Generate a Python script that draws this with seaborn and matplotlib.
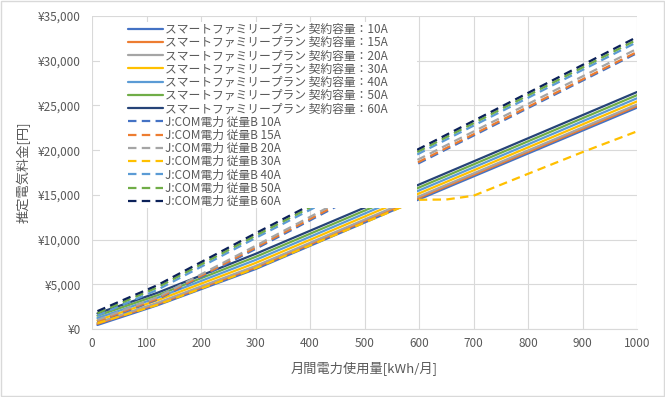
import pandas as pd
import matplotlib
matplotlib.use("Agg")
import matplotlib.pyplot as plt
import matplotlib.ticker as mticker
from matplotlib.patches import Rectangle
import seaborn as sns

# usage points (kWh/month)
usage = [10, 120, 300, 600, 1000]
usage_jcom30 = [10, 120, 300, 600, 650, 700, 800, 900, 1000]

# スマートファミリープラン (yen)
smart_10a = [450, 2650, 6700, 14500, 24750]
smart_15a = [580, 2790, 6870, 14670, 24930]
smart_20a = [710, 2930, 7040, 14830, 25100]
smart_30a = [970, 3210, 7380, 15160, 25450]
smart_40a = [1230, 3490, 7720, 15490, 25800]
smart_50a = [1490, 3770, 8060, 15820, 26150]
smart_60a = [1750, 4050, 8400, 16150, 26500]

# J:COM電力 従量B (yen)
jcom_10a = [750, 3300, 8950, 18550, 30850]
jcom_15a = [850, 3400, 9100, 18700, 30980]
jcom_20a = [1000, 3550, 9300, 19000, 31330]
jcom_30a = [650, 2700, 6800, 14450, 14480, 14900, 17350, 19780, 22100]
jcom_40a = [1500, 4380, 10170, 19620, 32080]
jcom_50a = [1770, 4650, 10430, 19890, 32360]
jcom_60a = [2000, 4900, 10700, 20150, 32650]

amps = ["10A", "15A", "20A", "30A", "40A", "50A", "60A"]
colors = ["#4472C4", "#ED7D31", "#A5A5A5", "#FFC000", "#5B9BD5", "#70AD47", "#264478"]
jcom_colors = ["#4472C4", "#ED7D31", "#A5A5A5", "#FFC000", "#5B9BD5", "#70AD47", "#0B2159"]

smart_all = [smart_10a, smart_15a, smart_20a, smart_30a, smart_40a, smart_50a, smart_60a]
jcom_all = [jcom_10a, jcom_15a, jcom_20a, jcom_30a, jcom_40a, jcom_50a, jcom_60a]

rows = []
palette = {}
dashes = {}
order = []
for a, vals, c in zip(amps, smart_all, colors):
    name = "スマートファミリープラン 契約容量：" + a
    order.append(name)
    palette[name] = c
    dashes[name] = ""
    for x, y in zip(usage, vals):
        rows.append((name, x, y))
for a, vals, c in zip(amps, jcom_all, jcom_colors):
    name = "J:COM電力 従量B " + a
    order.append(name)
    palette[name] = c
    dashes[name] = (3.8, 2.4)
    xs = usage_jcom30 if a == "30A" else usage
    for x, y in zip(xs, vals):
        rows.append((name, x, y))
df = pd.DataFrame(rows, columns=["series", "kwh", "yen"])

sns.set_style("white")
plt.rcParams["font.family"] = ["Noto Sans CJK JP", "DejaVu Sans"]

fig = plt.figure(figsize=(6.65, 3.97), dpi=100)
ax = fig.add_axes([92 / 665, 1 - 329 / 397, 545 / 665, 313 / 397])

sns.lineplot(data=df, x="kwh", y="yen", hue="series", style="series",
             hue_order=order, style_order=order, palette=palette, dashes=dashes,
             linewidth=1.6, ax=ax, legend=True, sort=False)

ax.set_xlim(0, 1000)
ax.set_ylim(0, 35000)
ax.xaxis.set_major_locator(mticker.MultipleLocator(100))
ax.yaxis.set_major_locator(mticker.MultipleLocator(5000))
ax.yaxis.set_major_formatter(mticker.FuncFormatter(lambda v, p: "¥{:,.0f}".format(v)))
ax.grid(True, color="#D9D9D9", linewidth=0.8)
ax.set_axisbelow(True)
for s in ["top", "right", "left"]:
    ax.spines[s].set_visible(False)
ax.spines["bottom"].set_color("#D9D9D9")
ax.tick_params(axis="both", length=0, labelsize=8.5, colors="#595959")
ax.tick_params(axis="x", pad=6)
ax.tick_params(axis="y", pad=8)
ax.set_xlabel("月間電力使用量[kWh/月]", fontsize=9.5, color="#595959", labelpad=8)
ax.set_ylabel("推定電気料金[円]", fontsize=9.5, color="#595959", labelpad=5)

# white legend area covering the lines
ax.add_patch(Rectangle((8 / 545, 121 / 313), 317 / 545, 186 / 313, transform=ax.transAxes,
                       facecolor="white", edgecolor="none", zorder=5))
handles, labels = ax.get_legend_handles_labels()
leg = ax.legend(handles, labels, loc="upper left", bbox_to_anchor=(0.066, 0.978),
                frameon=False, fontsize=8.5, labelspacing=0.02, handlelength=3.0,
                handletextpad=0.15, borderpad=0, borderaxespad=0)
leg.set_zorder(6)
for t in leg.get_texts():
    t.set_color("#595959")

fig.patches.append(Rectangle((0.002, 0.003), 0.996, 0.994, transform=fig.transFigure,
                             fill=False, edgecolor="#D9D9D9", linewidth=1))
fig.savefig("out.png", dpi=100)
